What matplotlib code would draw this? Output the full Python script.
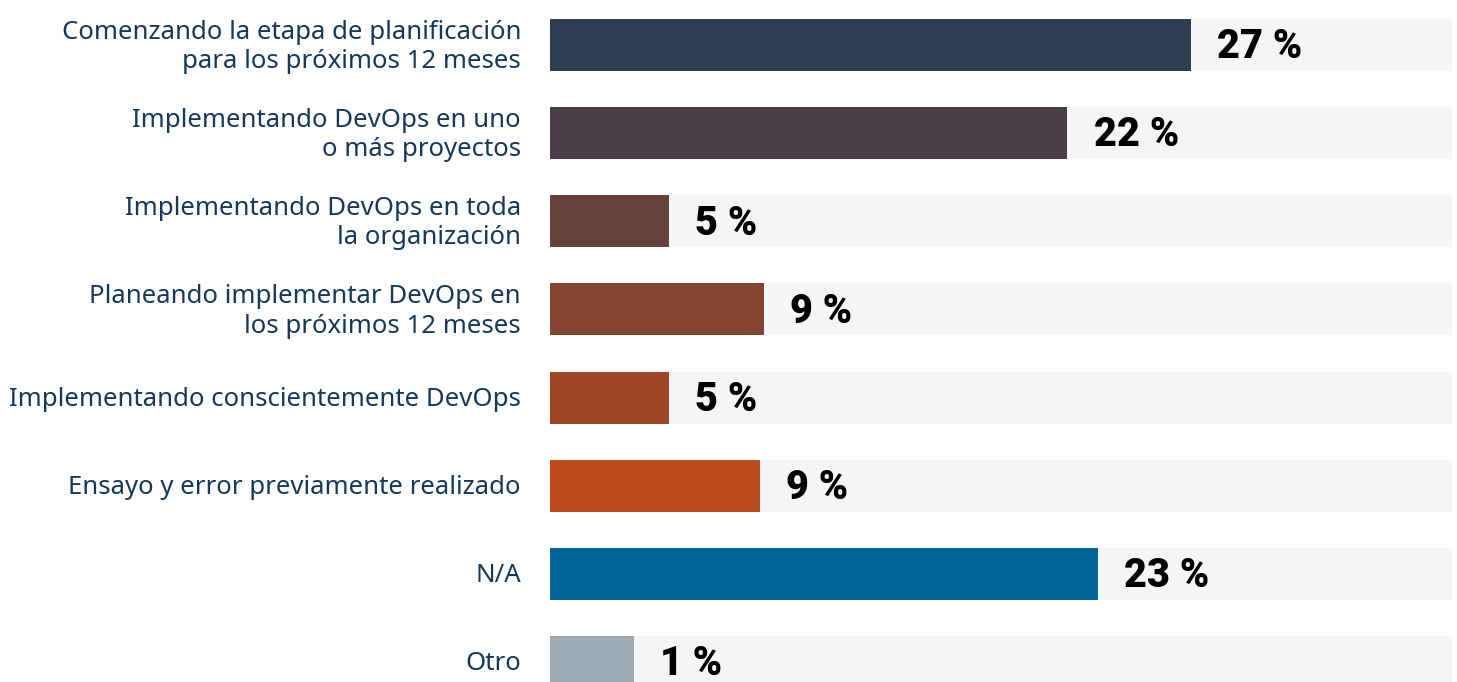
import matplotlib
matplotlib.use("Agg")
import matplotlib.pyplot as plt

categories = [
    "Comenzando la etapa de planificación\npara los próximos 12 meses",
    "Implementando DevOps en uno\no más proyectos",
    "Implementando DevOps en toda\nla organización",
    "Planeando implementar DevOps en\nlos próximos 12 meses",
    "Implementando conscientemente DevOps",
    "Ensayo y error previamente realizado",
    "N/A",
    "Otro",
]
values = [27.0, 21.8, 5.0, 9.0, 5.0, 8.85, 23.1, 1.0]
colors = ["#2d3e50", "#4a3d45", "#66413a", "#834530", "#a04624", "#bd4a1c", "#006699", "#9eabb5"]

track_max = 38.0
min_bar = 3.55
W, H = 1457, 682
fig = plt.figure(figsize=(W / 100, H / 100), dpi=100)
ax = fig.add_axes([550 / W, 0, 902 / W, 1])
ax.set_xlim(0, track_max)
row_px = 88.14
ax.set_ylim(7 + 20 / row_px, -45 / row_px)
ax.axis("off")

ys = list(range(len(values)))
ax.barh(ys, [track_max] * len(values), height=0.59, color="#f4f5f7", left=0)
widths = [max(v, min_bar) for v in values]
ax.barh(ys, widths, height=0.59, color=colors)

for y, w, v, lab in zip(ys, widths, values, categories):
    ax.text(w + 1.1, y + 0.02, f"{round(v)} %", va="center", ha="left",
            fontsize=28.5, fontweight="heavy", color="black", family="Roboto")
    fig.text(521 / W, 1 - (47 + y * row_px) / H, lab, ha="right", va="center",
             fontsize=18.55, color="#17385a", family="Noto Sans",
             linespacing=1.22)

fig.savefig("out.png", dpi=100)
